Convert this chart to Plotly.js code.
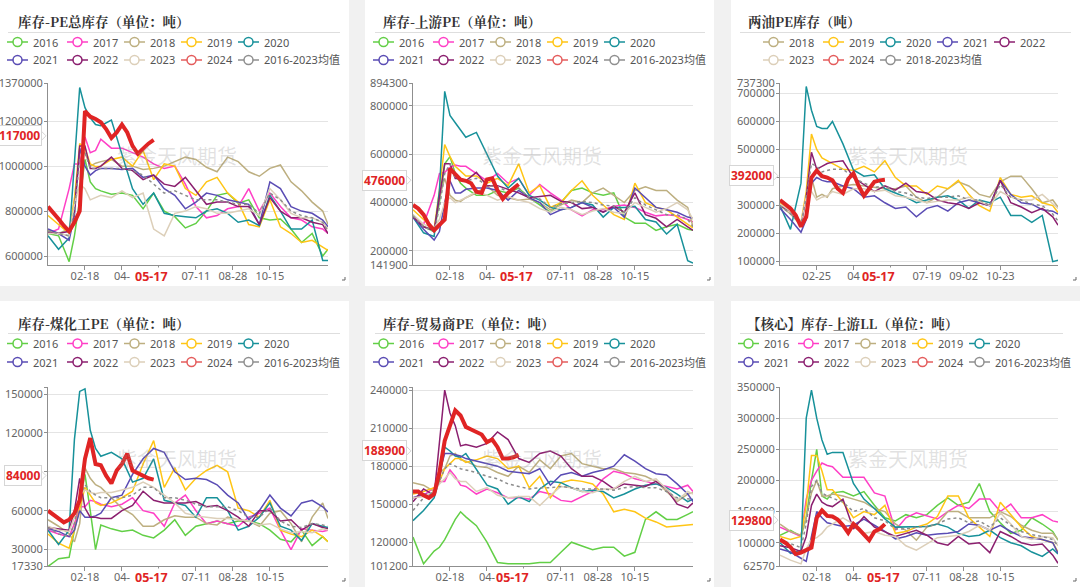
<!DOCTYPE html>
<html><head><meta charset="utf-8">
<script src="https://cdn.plot.ly/plotly-3.0.1.min.js"></script>
<style>html,body{margin:0;padding:0;background:#f1f1f1;}#chart{width:1080px;height:587px;}</style>
</head><body><div id="chart"></div>
<script>
// ---------- DATA (values in thousand tonnes) ----------
const weeks = [0,2,4,5,6,7,8,9,10,12,14,16,18,20,22,24,26,28,30,32,34,36,38,40,42,44,46,48,50,52,53];
const weeks2024 = [0,1,2,3,4,5,6,7,8,9,10,11,12,13,14,15,16,17,18,19,20];
const xTickPos = [7,14,21,28,35,42];
const xlabels_a = ['02-18','04-','','07-11','08-28','10-15'];
const xlabels_b = ['02-25','04','','07-19','09-02','10-23'];

// Panel 1: 库存-PE总库存
const total_2016 = [700,690,575,690,850,1030,930,900,890,875,880,870,810,880,800,775,725,745,800,870,880,835,850,770,760,765,720,660,700,600,630];
const total_2017 = [700,720,900,1010,1010,1130,1060,1070,1120,1080,1080,1060,1040,1010,990,1000,920,820,770,780,810,820,900,800,880,820,770,760,730,720,700];
const total_2018 = [715,700,720,850,1060,1060,1000,1013,1020,1030,1000,1000,985,990,1000,1020,1040,1030,995,975,1040,1020,975,955,990,1005,930,890,840,800,740];
const total_2019 = [780,740,700,850,1100,1080,1010,998,1000,1030,1040,1000,1070,940,1010,1000,900,870,930,950,880,840,740,730,850,730,700,660,670,640,625];
const total_2020 = [690,630,680,1000,1350,1260,1215,1185,1180,1205,1050,900,830,880,790,780,775,770,800,810,790,750,760,735,870,800,720,720,760,580,580];
const total_2021 = [720,700,670,780,1080,1000,960,980,990,990,985,990,950,960,900,870,810,840,880,870,850,840,830,740,930,900,820,800,790,760,730];
const total_2022 = [705,700,710,800,1090,1090,990,990,1000,1040,990,980,940,960,920,910,950,890,830,840,840,820,820,740,860,800,770,770,750,740,700];
const total_2023 = [700,700,690,830,920,900,850,860,870,860,890,860,880,720,690,790,800,820,810,790,790,800,810,780,900,850,790,770,770,750,720];
const total_avg  = [710,700,690,800,1030,1060,990,990,990,990,990,980,960,920,880,890,870,850,850,850,840,830,830,790,880,850,800,780,770,750,710];
const total_2024 = [820,795,765,735,710,750,800,1245,1220,1210,1195,1165,1125,1150,1185,1150,1090,1055,1080,1100,1117];
const total_yticks = [600000,800000,1000000,1200000,1370000];
const total_ylabels = ['600000','800000','1000000','1200000','1370000'];

// Panel 2: 库存-上游PE
const up_2016 = [350,300,280,400,560,590,520,480,460,430,430,450,440,460,420,390,360,400,450,460,440,430,440,340,315,315,285,300,310,290,285];
const up_2017 = [340,310,430,520,525,545,555,550,550,520,490,520,480,500,430,475,440,410,370,345,370,370,385,390,380,360,345,350,345,330,320];
const up_2018 = [340,300,290,420,500,430,410,405,420,440,470,430,420,410,415,400,370,390,410,400,440,460,430,400,450,465,450,450,410,380,300];
const up_2019 = [370,330,290,450,640,590,550,530,510,510,480,500,470,560,440,470,380,400,450,490,430,390,350,330,480,400,380,370,340,310,295];
const up_2020 = [340,275,260,450,860,760,730,700,670,690,600,510,460,500,430,410,380,370,380,400,390,340,380,380,385,330,320,270,310,160,150];
const up_2021 = [340,290,245,280,400,490,440,440,455,460,460,450,410,450,420,400,350,370,380,400,380,360,380,340,460,420,380,370,360,340,335];
const up_2022 = [340,300,285,420,560,560,500,500,490,525,470,470,455,440,420,425,430,405,400,375,380,360,385,360,440,350,335,300,330,300,285];
const up_2023 = [350,310,295,330,400,420,400,410,420,445,430,410,425,410,400,375,360,380,370,350,365,375,360,355,400,380,360,375,400,370,330];
const up_avg  = [345,300,280,380,520,560,500,495,490,500,470,465,445,460,420,415,380,395,400,405,400,390,385,360,420,390,370,350,350,330,300];
const up_2024 = [390,375,350,310,285,310,330,540,520,495,490,480,445,440,495,500,450,415,440,460,476];
const up_yticks = [141900,200000,400000,600000,800000,894300];
const up_ylabels = ['141900','200000','400000','600000','800000','894300'];

// Panel 3: 两油PE库存
const oil_2018 = [300,270,230,330,400,330,340,330,360,370,375,370,365,360,360,370,330,310,330,360,385,370,340,330,385,405,405,360,310,320,295];
const oil_2019 = [310,280,240,350,555,500,470,460,450,430,425,440,420,460,400,370,370,340,370,360,390,340,300,280,400,340,330,335,310,300,275];
const oil_2020 = [300,215,380,725,640,582,575,575,600,520,427,405,410,360,345,330,310,320,330,335,320,290,320,310,330,265,265,240,265,100,105];
const oil_2021 = [290,250,205,250,380,400,390,385,385,370,360,330,335,310,290,295,260,290,300,280,310,320,310,300,390,340,310,305,285,280,270];
const oil_2022 = [300,280,230,330,490,430,440,450,455,460,400,375,350,370,355,380,350,345,320,310,305,290,310,300,390,310,295,275,290,260,230];
const oil_2023 = [305,280,240,330,350,320,330,335,350,340,360,360,350,355,335,330,320,310,315,320,320,330,315,300,350,330,320,320,340,305,290];
const oil_avg  = [300,270,235,330,450,440,420,425,430,430,400,380,365,370,350,345,330,325,330,330,335,320,320,300,375,330,320,305,300,270,245];
const oil_2024 = [320,305,290,265,225,260,400,425,405,400,390,360,345,395,415,370,335,360,385,390,392];
const oil_yticks = [100000,200000,300000,400000,500000,600000,700000,737300];
const oil_ylabels = ['100000','200000','300000','','500000','600000','700000','737300'];

// Panel 4: 库存-煤化工PE
const coal_2016 = [17,23,24,45,70,88,60,30,49,46,44,45,41,39,45,53,41,48,50,52,50,52,52,50,45,38,36,45,33,40,36];
const coal_2017 = [45,42,40,50,63,63,68,67,65,63,65,70,60,58,48,66,72,60,50,52,50,48,55,58,62,45,30,46,45,44,45];
const coal_2018 = [53,48,42,36,50,93,85,80,78,70,62,57,48,48,53,56,55,55,50,49,55,53,52,48,58,60,50,36,55,66,54];
const coal_2019 = [42,35,31,45,62,78,72,66,64,66,70,75,96,114,78,93,76,85,91,95,90,62,60,55,68,45,42,40,45,40,36];
const coal_2020 = [45,34,45,115,152,154,122,108,102,105,100,82,85,100,68,66,64,55,70,70,60,45,48,55,66,48,45,37,50,48,47];
const coal_2021 = [46,44,40,45,60,55,55,56,58,70,72,88,100,108,105,90,84,85,84,80,72,66,53,60,72,62,56,66,68,63,59];
const coal_2022 = [47,46,45,60,85,62,55,55,54,54,60,64,75,68,66,66,66,67,63,64,60,55,48,60,60,52,53,45,50,47,46];
const coal_2023 = [48,45,44,55,72,76,74,73,74,74,76,78,82,78,72,66,58,56,55,54,54,53,52,49,50,46,43,44,43,46,45];
const coal_avg  = [47,42,40,50,70,80,75,72,70,70,70,72,78,78,70,70,68,65,63,63,63,60,55,55,62,52,48,47,50,49,48];
const coal_2024 = [60,57,54,51,53,58,68,100,116,96,95,87,81,91,96,104,91,89,87,85,84];
const coal_yticks = [17330,30000,60000,90000,120000,150000,155400];
const coal_ylabels = ['17330','30000','60000','','120000','150000',''];

// Panel 5: 库存-贸易商PE
const tr_2016 = [124,103,113,116,122,130,138,144,140,133,120,104,103,103,103,104,104,112,120,117,114,116,116,109,112,138,144,138,138,142,144];
const tr_2017 = [155,157,163,168,168,177,172,165,164,158,162,159,155,155,154,160,158,153,152,156,160,170,176,174,170,168,166,164,162,165,160];
const tr_2018 = [167,165,160,175,178,188,190,185,184,180,179,175,172,180,175,185,178,188,190,182,180,178,178,175,174,172,168,160,152,158,159];
const tr_2019 = [158,160,163,168,178,182,186,186,183,185,188,186,178,180,163,172,155,167,169,168,166,158,144,146,144,139,136,132,133,134,134];
const tr_2020 = [137,145,155,170,195,192,188,187,190,178,165,162,150,156,152,162,168,167,163,160,161,160,155,158,162,165,166,163,158,152,154];
const tr_2021 = [155,158,157,175,190,190,189,188,186,184,182,180,176,175,174,178,165,173,175,172,175,177,180,189,184,178,174,173,166,158,152];
const tr_2022 = [152,162,157,200,240,222,212,196,197,195,198,207,201,186,183,190,192,188,178,172,172,168,162,166,165,164,168,162,150,147,151];
const tr_2023 = [155,156,160,166,170,175,170,168,168,160,163,157,155,156,156,149,157,164,163,160,159,162,162,168,172,168,170,162,153,160,158];
const tr_avg  = [145,155,160,168,178,182,180,178,177,175,172,170,166,164,162,163,163,164,163,162,162,162,161,163,164,163,163,160,155,154,154];
const tr_2024 = [160,160,157,155,158,175,200,212,224,220,211,209,207,205,199,201,195,186,186,187,188.9];
const tr_yticks = [101200,120000,150000,180000,210000,240000,242500];
const tr_ylabels = ['101200','120000','150000','180000','210000','240000',''];

// Panel 6: 【核心】库存-上游LL
const ll_2016 = [112,120,110,140,200,250,175,170,180,182,175,182,160,140,135,145,140,145,160,172,160,165,195,150,132,115,120,140,130,118,104];
const ll_2017 = [125,118,110,170,200,215,228,224,222,205,205,205,180,175,120,140,148,143,138,150,160,155,170,170,150,162,140,140,145,135,133];
const ll_2018 = [130,118,112,140,180,200,175,175,178,175,170,165,155,150,130,120,104,125,130,150,150,140,140,140,150,142,128,120,115,115,105];
const ll_2019 = [110,105,110,160,240,240,215,185,185,165,140,150,145,160,115,118,125,130,142,175,175,140,125,110,165,145,125,110,105,100,85];
const ll_2020 = [100,83,88,300,345,300,265,242,245,245,195,170,155,138,125,125,125,126,130,125,115,110,112,120,108,100,95,85,78,90,82];
const ll_2021 = [90,85,75,70,110,150,140,132,130,126,128,138,128,118,106,110,116,112,114,115,118,130,128,120,128,118,110,108,105,100,83];
const ll_2022 = [95,92,86,110,160,178,165,160,158,170,122,142,125,118,110,115,120,112,100,96,110,98,100,84,118,110,100,96,98,80,67];
const ll_2023 = [80,72,66,90,105,108,115,125,130,140,130,115,118,112,110,95,88,98,108,110,112,118,128,120,148,130,110,105,110,108,95];
const ll_avg  = [105,98,92,130,190,200,180,175,172,165,150,155,140,135,122,122,125,126,130,138,140,132,135,125,140,128,118,113,110,105,95];
const ll_2024 = [105,100,93,82,84,88,92,140,152,143,142,137,128,116,130,122,112,104,118,122,129.8];
const ll_yticks = [62570,100000,150000,200000,250000,300000,350000];
const ll_ylabels = ['62570','100000','150000','200000','250000','300000','350000'];

const years8 = ['2016','2017','2018','2019','2020','2021','2022','2023'];
const years6 = ['2018','2019','2020','2021','2022','2023'];

const panels = [
 {title:'库存-PE总库存（单位：吨）', names:years8, data:[total_2016,total_2017,total_2018,total_2019,total_2020,total_2021,total_2022,total_2023], avgName:'2016-2023均值', avg:total_avg, cur:total_2024, range:[560000,1370000], yticks:total_yticks, ylabels:total_ylabels, xlabels:xlabels_a, badge:'117000', badgeVal:1117000},
 {title:'库存-上游PE（单位：吨）', names:years8, data:[up_2016,up_2017,up_2018,up_2019,up_2020,up_2021,up_2022,up_2023], avgName:'2016-2023均值', avg:up_avg, cur:up_2024, range:[141900,894300], yticks:up_yticks, ylabels:up_ylabels, xlabels:xlabels_a, badge:'476000', badgeVal:476000},
 {title:'两油PE库存（吨）', names:years6, data:[oil_2018,oil_2019,oil_2020,oil_2021,oil_2022,oil_2023], avgName:'2018-2023均值', avg:oil_avg, cur:oil_2024, range:[88000,737300], yticks:oil_yticks, ylabels:oil_ylabels, xlabels:xlabels_b, badge:'392000', badgeVal:392000},
 {title:'库存-煤化工PE（单位：吨）', names:years8, data:[coal_2016,coal_2017,coal_2018,coal_2019,coal_2020,coal_2021,coal_2022,coal_2023], avgName:'2016-2023均值', avg:coal_avg, cur:coal_2024, range:[17330,155400], yticks:coal_yticks, ylabels:coal_ylabels, xlabels:xlabels_a, badge:'84000', badgeVal:84000},
 {title:'库存-贸易商PE（单位：吨）', names:years8, data:[tr_2016,tr_2017,tr_2018,tr_2019,tr_2020,tr_2021,tr_2022,tr_2023], avgName:'2016-2023均值', avg:tr_avg, cur:tr_2024, range:[101200,242500], yticks:tr_yticks, ylabels:tr_ylabels, xlabels:xlabels_a, badge:'188900', badgeVal:188900},
 {title:'【核心】库存-上游LL（单位：吨）', names:years8, data:[ll_2016,ll_2017,ll_2018,ll_2019,ll_2020,ll_2021,ll_2022,ll_2023], avgName:'2016-2023均值', avg:ll_avg, cur:ll_2024, range:[62570,350000], yticks:ll_yticks, ylabels:ll_ylabels, xlabels:xlabels_a, badge:'129800', badgeVal:129800}
];

// ---------- STYLE / GEOMETRY ----------
const W = 1080, H = 587;
const px = x => x / W, py = y => 1 - y / H;
const colors = {'2016':'#62cf46','2017':'#ff3fc6','2018':'#bdaf80','2019':'#ffc515','2020':'#17919a','2021':'#5a4cb4','2022':'#8b1f6f','2023':'#dccfb9','2024':'#e02424'};
const legendColors = Object.assign({}, colors, {'2024':'#e45c5c'});
const avgColor = '#8c8c8c', RED = '#e02424';
const plotX = [[48,328],[413,693],[780,1058]];
const plotY = [[83,265],[387,566]];
const cards = [[0,349,0,286],[365,714,0,286],[731,1080,0,286],[0,349,301,587],[365,714,301,587],[731,1080,301,587]];
const titlePos = [[16,21],[381,21],[746,21],[16,323],[381,323],[745,323]];
const ruleX = [[8,340],[375,705],[740,1071],[8,340],[375,705],[740,1063]];
const ruleY = [32.5,32.5,32.5,333.5,333.5,333.5];
const legendX = [7,373,763,7,373,738];
const legendRows = [[42,60],[42,60],[42,60],[343.5,362],[343.5,362],[343.5,362]];
const legendCols = [0,60,117,174,231];
const curLabelX = [19.6,19.6,18.7,19.6,18.9,19.8];

const traces = [], shapes = [], annotations = [];
const layout = {width:W, height:H, margin:{l:0,r:0,t:0,b:0}, paper_bgcolor:'#f1f1f1', plot_bgcolor:'rgba(0,0,0,0)',
  showlegend:false, font:{family:'Noto Sans, Noto Sans CJK SC, sans-serif', color:'#666', size:11}};

cards.forEach(c => {
  shapes.push({type:'rect', xref:'paper', yref:'paper', x0:px(c[0]), x1:px(c[1]), y0:py(c[3]), y1:py(c[2]), fillcolor:'#ffffff', line:{width:0}, layer:'below'});
  // small resize corner mark
  const gx = c[1] - 4, gy = c[3] - 6;
  shapes.push({type:'path', xref:'paper', yref:'paper', path:'M ' + px(gx-3) + ' ' + py(gy) + ' L ' + px(gx) + ' ' + py(gy) + ' L ' + px(gx) + ' ' + py(gy-3),
    line:{color:'#666', width:1}});
});

panels.forEach((p,i) => {
  const col = i % 3, row = Math.floor(i / 3), n = i + 1;
  const sfx = n === 1 ? '' : String(n);
  const xa = 'x' + sfx, ya = 'y' + sfx;
  const [xl, xr] = plotX[col], [yt, yb] = plotY[row];
  layout['xaxis' + sfx] = {domain:[px(xl), px(xr)], anchor:ya, range:[0,53], tickmode:'array', tickvals:xTickPos, ticktext:p.xlabels,
    showgrid:false, zeroline:false, showline:true, linecolor:'#8f8f8f', linewidth:1, ticks:'outside', ticklen:4, tickcolor:'#8f8f8f',
    ticklabelstandoff:-3, tickfont:{size:11, color:'#666'}, fixedrange:true};
  layout['yaxis' + sfx] = {domain:[py(yb), py(yt)], anchor:xa, range:p.range, tickmode:'array', tickvals:p.yticks, ticktext:p.ylabels,
    showgrid:true, gridcolor:'#e4e4e4', gridwidth:1, zeroline:false, showline:true, linecolor:'#8f8f8f', linewidth:1,
    ticks:'outside', ticklen:3, tickcolor:'#8f8f8f', ticklabelstandoff:-1,
    tickfont:{size:11, color:'#666'}, fixedrange:true};

  p.names.forEach((nm,k) => traces.push({type:'scatter', mode:'lines', x:weeks, y:p.data[k].map(v => v*1000), xaxis:xa, yaxis:ya,
    line:{color:colors[nm], width:1.5}, hoverinfo:'skip', name:nm}));
  traces.push({type:'scatter', mode:'lines', x:weeks, y:p.avg.map(v => v*1000), xaxis:xa, yaxis:ya,
    line:{color:avgColor, width:1.5, dash:'dot'}, hoverinfo:'skip', name:p.avgName});
  traces.push({type:'scatter', mode:'lines', x:weeks2024, y:p.cur.map(v => v*1000), xaxis:xa, yaxis:ya,
    line:{color:RED, width:4}, hoverinfo:'skip', name:'2024'});

  // title + rule
  annotations.push({xref:'paper', yref:'paper', x:px(titlePos[i][0]), y:py(titlePos[i][1]), xanchor:'left', yanchor:'middle', showarrow:false,
    text:'<b>' + p.title + '</b>', font:{family:'Noto Serif CJK SC, Liberation Serif, Noto Sans CJK SC, serif', size:13.5, color:'#333'}});
  shapes.push({type:'line', xref:'paper', yref:'paper', x0:px(ruleX[i][0]), x1:px(ruleX[i][1]), y0:py(ruleY[i]), y1:py(ruleY[i]), line:{color:'#dedede', width:1}});

  // legend
  const items = p.names.concat(['2024', p.avgName]);
  items.forEach((nm,k) => {
    const r = Math.floor(k / 5), c = k % 5;
    const x0 = legendX[i] + legendCols[c], cy = legendRows[i][r];
    const colr = nm === p.avgName ? '#8f8f8f' : legendColors[nm];
    shapes.push({type:'line', xref:'paper', yref:'paper', x0:px(x0), x1:px(x0+21), y0:py(cy), y1:py(cy), line:{color:colr, width:1.5}});
    shapes.push({type:'circle', xref:'paper', yref:'paper', x0:px(x0+10.5-4.5), x1:px(x0+10.5+4.5), y0:py(cy+4.5), y1:py(cy-4.5), fillcolor:'#ffffff', line:{color:colr, width:1.5}});
    annotations.push({xref:'paper', yref:'paper', x:px(x0+24), y:py(cy), xanchor:'left', yanchor:'middle', showarrow:false,
      text:nm, font:{size:11, color:'#555'}});
  });

  // watermark
  annotations.push({xref:xa + ' domain', yref:ya + ' domain', x:0.46, y:0.6, showarrow:false, text:'紫金天风期货',
    font:{family:'Noto Sans CJK SC', size:20, color:'rgba(150,150,150,0.28)'}});

  // current-date label on x axis
  annotations.push({xref:xa, yref:ya + ' domain', x:curLabelX[i], y:0, yanchor:'top', yshift:-2, showarrow:false,
    text:'<b>05-17</b>', font:{size:12.5, color:RED}, bgcolor:'#ffffff', borderpad:0});

  // latest value badge on y axis
  const cyPix = yt + (p.range[1] - p.badgeVal) / (p.range[1] - p.range[0]) * (yb - yt) - 4;
  annotations.push({xref:xa + ' domain', yref:ya, x:0, y:p.badgeVal, xanchor:'right', yanchor:'middle', xshift:-6, yshift:4, showarrow:false,
    text:'<b>' + p.badge + '</b>', font:{size:12, color:RED}, bgcolor:'#ffffff', bordercolor:'#d6d6d6', borderwidth:1, borderpad:1});
  shapes.push({type:'path', xref:'paper', yref:'paper',
    path:'M ' + px(xl-7) + ' ' + py(cyPix-5) + ' L ' + px(xl-2) + ' ' + py(cyPix) + ' L ' + px(xl-7) + ' ' + py(cyPix+5) + ' Z',
    fillcolor:'#ffffff', line:{color:'#d6d6d6', width:1}});
});

layout.shapes = shapes;
layout.annotations = annotations;
Plotly.newPlot('chart', traces, layout, {displayModeBar:false, staticPlot:true});
</script>
</body></html>
